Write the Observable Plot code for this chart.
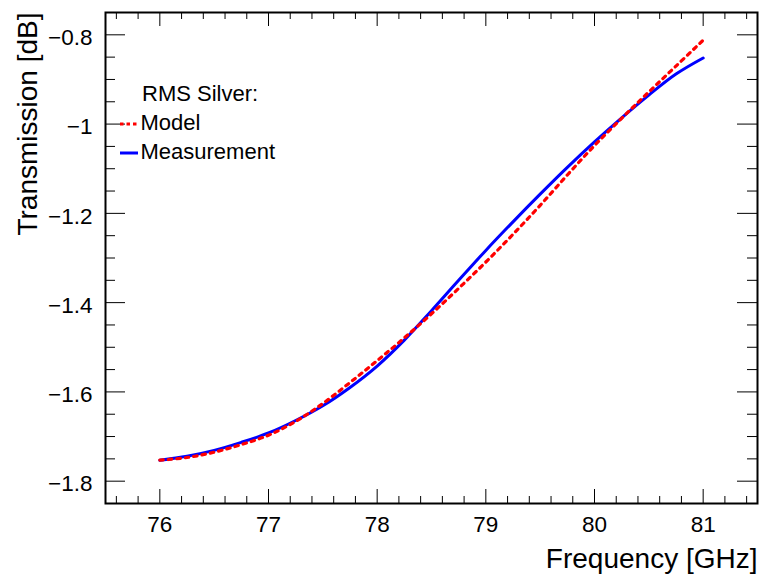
<!DOCTYPE html>
<html>
<head>
<meta charset="utf-8">
<script src="https://cdn.jsdelivr.net/npm/d3@7"></script>
<script src="https://cdn.jsdelivr.net/npm/@observablehq/plot@0.6"></script>
<style>
  html, body { margin: 0; padding: 0; background: #ffffff; }
</style>
</head>
<body>
<div id="chart"></div>
<script>
// Frequency sweep (GHz)
const freq = [76, 76.25, 76.5, 76.75, 77, 77.25, 77.5, 77.75, 78, 78.25, 78.5,
              78.75, 79, 79.25, 79.5, 79.75, 80, 80.25, 80.5, 80.75, 81];
// Transmission (dB), RMS silver coating
const model = [-1.753, -1.747, -1.735, -1.718, -1.697, -1.666, -1.626, -1.579, -1.530, -1.479, -1.425,
               -1.368, -1.309, -1.247, -1.182, -1.114, -1.048, -0.987, -0.928, -0.870, -0.812];
const measurement = [-1.753, -1.744, -1.731, -1.713, -1.692, -1.664, -1.631, -1.590, -1.542, -1.484, -1.418,
                     -1.350, -1.283, -1.219, -1.157, -1.097, -1.040, -0.986, -0.935, -0.888, -0.852];

const seriesNames = ["Model", "Measurement"];
const seriesColors = ["#ff0000", "#0000ff"];
const legendTitle = "RMS Silver:";

const xTicks = [76, 77, 78, 79, 80, 81];
const yTicks = [-1.8, -1.6, -1.4, -1.2, -1, -0.8];
const xLabel = "Frequency [GHz]";
const yLabel = "Transmission [dB]";

const xDomain = [75.5, 81.5];
const yDomain = [-1.85, -0.75];

// Layout
const W = 761, H = 575;
const mL = 105, mR = 4, mT = 12, mB = 72;
const innerW = W - mL - mR, innerH = H - mT - mB;
const font = "'Liberation Sans', Arial, Helvetica, sans-serif";

const isMultiple = (v, step) => Math.abs(v / step - Math.round(v / step)) < 1e-6;
const xMinor = d3.range(75.6, 81.45, 0.2).map(v => +v.toFixed(2)).filter(v => !isMultiple(v, 1));
const yMinor = d3.range(-1.8, -0.76, 0.05).map(v => +v.toFixed(2)).filter(v => !isMultiple(v, 0.2));
const fmt = d => (d < 0 ? "\u2212" : "") + String(Math.abs(d));

const rows = freq.map((f, i) => ({f, model: model[i], meas: measurement[i]}));

// tick lengths (px), ROOT-style inward ticks on all four sides
const majX = 14, minX = 7, majY = 20, minY = 10;
const tickStyle = {stroke: "#000", strokeWidth: 1};

// legend rows: baseline offsets from the frame's top edge
const legendRows = [117.3, 146.3];

const plot = Plot.plot({
  width: W,
  height: H,
  marginLeft: mL,
  marginRight: mR,
  marginTop: mT,
  marginBottom: mB,
  x: {domain: xDomain, axis: null},
  y: {domain: yDomain, axis: null},
  style: {fontFamily: font, background: "#ffffff", color: "#000000"},
  marks: [
    // curves
    Plot.line(rows, {x: "f", y: "meas", stroke: seriesColors[1], strokeWidth: 3, curve: "catmull-rom"}),
    Plot.line(rows, {x: "f", y: "model", stroke: seriesColors[0], strokeWidth: 3.2,
                     strokeDasharray: "3.5,5", curve: "catmull-rom"}),
    // bottom & top ticks
    Plot.tickX(xTicks, {x: d => d, insetTop: innerH - majX, ...tickStyle}),
    Plot.tickX(xTicks, {x: d => d, insetBottom: innerH - majX, ...tickStyle}),
    Plot.tickX(xMinor, {x: d => d, insetTop: innerH - minX, ...tickStyle}),
    Plot.tickX(xMinor, {x: d => d, insetBottom: innerH - minX, ...tickStyle}),
    // left & right ticks
    Plot.tickY(yTicks, {y: d => d, insetRight: innerW - majY, ...tickStyle}),
    Plot.tickY(yTicks, {y: d => d, insetLeft: innerW - majY, ...tickStyle}),
    Plot.tickY(yMinor, {y: d => d, insetRight: innerW - minY, ...tickStyle}),
    Plot.tickY(yMinor, {y: d => d, insetLeft: innerW - minY, ...tickStyle}),
    Plot.frame({stroke: "#000", strokeWidth: 2}),
    // tick labels
    Plot.text(xTicks, {x: d => d, text: fmt, frameAnchor: "bottom", lineAnchor: "bottom",
                       dy: 28.7, fontSize: 22.5, fill: "#000"}),
    Plot.text(yTicks, {y: d => d, text: fmt, frameAnchor: "left", textAnchor: "end",
                       dx: -13, dy: 3, fontSize: 22.5, fill: "#000"}),
    // axis titles
    Plot.text([xLabel], {text: d => d, frameAnchor: "bottom-right", textAnchor: "end",
                         lineAnchor: "bottom", dy: 64, fontSize: 28, fill: "#000"}),
    Plot.text([yLabel], {text: d => d, frameAnchor: "top-left", textAnchor: "end",
                         lineAnchor: "bottom", rotate: -90, dx: -68.3, fontSize: 28, fill: "#000"}),
    // legend text
    Plot.text([legendTitle], {text: d => d, frameAnchor: "top-left", textAnchor: "start",
                              lineAnchor: "bottom", dx: 36.5, dy: 88, fontSize: 22, fill: "#000"}),
    ...seriesNames.map((name, i) =>
      Plot.text([name], {text: d => d, frameAnchor: "top-left", textAnchor: "start",
                         lineAnchor: "bottom", dx: 35, dy: legendRows[i], fontSize: 22, fill: "#000"}))
  ]
});

document.getElementById("chart").appendChild(plot);

// Legend line samples, drawn beside each series name
const legend = d3.select(plot).append("g").attr("transform", `translate(${mL},${mT})`);
seriesNames.forEach((name, i) => {
  legend.append("line")
    .attr("x1", 15).attr("x2", 33)
    .attr("y1", legendRows[i] - 5.3).attr("y2", legendRows[i] - 5.3)
    .attr("stroke", seriesColors[i])
    .attr("stroke-width", 3)
    .attr("stroke-dasharray", i === 0 ? "3.5,3" : null);
});
</script>
</body>
</html>
